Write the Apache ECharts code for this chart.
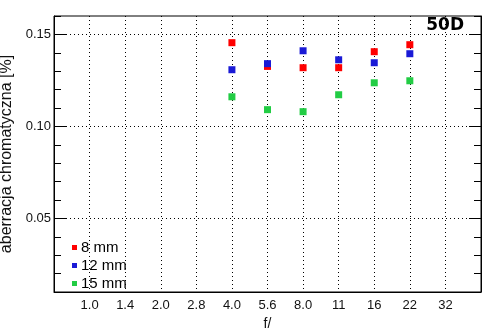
<!DOCTYPE html>
<html><head><meta charset="utf-8">
<script src="https://cdn.jsdelivr.net/npm/echarts@6/dist/echarts.min.js"></script>
<style>html,body{margin:0;padding:0;background:#fff}#c{width:494px;height:331px}</style>
</head><body><div id="c"></div>
<script>
var xCategories = ['', '1.0', '1.4', '2.0', '2.8', '4.0', '5.6', '8.0', '11', '16', '22', '32', ''];
var fStops = ['4.0', '5.6', '8.0', '11', '16', '22'];
var s8mm = [0.1455, 0.1326, 0.1319, 0.1319, 0.1406, 0.1444];
var s12mm = [0.1308, 0.1341, 0.1411, 0.1362, 0.1346, 0.1395];
var s15mm = [0.1161, 0.1091, 0.1080, 0.1172, 0.1237, 0.1248];
var yCategories = ['0.01','0.02','0.03','0.04','0.05','0.06','0.07','0.08','0.09','0.10','0.11','0.12','0.13','0.14','0.15','0.16'];
var majorLabels = ['0.05', '0.10', '0.15'];
var seriesNames = ['8 mm', '12 mm', '15 mm'];
var seriesColors = ['#ff0000', '#1a1ad6', '#22cc44'];
var seriesValues = [s8mm, s12mm, s15mm];

var FONT = 'Liberation Sans';
function isMajor(i) { return majorLabels.indexOf(yCategories[i]) >= 0; }

function valueAxis(pos) {
  return {
    type: 'value', position: pos, min: 0.01, max: 0.16, interval: 0.01,
    axisLine: { show: true, lineStyle: { color: '#000' } },
    axisTick: { show: true, inside: true, length: 7, lineStyle: { color: '#000' } },
    axisLabel: { show: false }, splitLine: { show: false }
  };
}
function catAxis(pos, withLabels) {
  return {
    type: 'category', position: pos, data: yCategories, boundaryGap: false,
    name: withLabels ? 'aberracja chromatyczna [%]' : '',
    nameLocation: 'middle', nameGap: 37,
    nameTextStyle: { fontFamily: FONT, fontSize: 16, color: '#111' },
    axisLine: { show: false },
    axisTick: { show: true, inside: true, length: 12, alignWithLabel: true,
      interval: function (i) { return isMajor(i); }, lineStyle: { color: '#000' } },
    axisLabel: { show: withLabels, interval: function (i) { return isMajor(i); },
      fontFamily: FONT, fontSize: 13, color: '#111', margin: 3 },
    splitLine: { show: withLabels, interval: function (i) { return isMajor(i); },
      lineStyle: { color: '#000', type: [1, 3], width: 1 } }
  };
}

var series = seriesNames.map(function (n, k) {
  return {
    name: n, type: 'scatter', yAxisIndex: 0, symbol: 'rect', symbolSize: 7,
    itemStyle: { color: seriesColors[k], opacity: 1 },
    data: fStops.map(function (f, i) { return [f, seriesValues[k][i]]; }),
    z: 5
  };
});

var chart = echarts.init(document.getElementById('c'), null, { renderer: 'canvas' });
chart.setOption({
  animation: false,
  backgroundColor: '#fff',
  title: { text: '50D', right: 30, top: 17, padding: 0,
    textStyle: { fontFamily: 'DejaVu Sans', fontWeight: 'bold', fontSize: 17, color: '#000' } },
  grid: { left: 54, right: 13, top: 16, bottom: 39, outerBoundsMode: 'none', containLabel: false,
    show: true, borderColor: '#000', borderWidth: 1, backgroundColor: 'transparent' },
  legend: {
    data: seriesNames, orient: 'vertical', left: 72, top: 240, padding: 0, itemWidth: 5, itemHeight: 5,
    itemGap: 3, icon: 'rect',
    textStyle: { fontFamily: FONT, fontSize: 15, lineHeight: 14, color: '#000', padding: [0, 0, 0, -1] }
  },
  xAxis: {
    type: 'category', data: xCategories, boundaryGap: false,
    name: 'f/', nameLocation: 'middle', nameGap: 23,
    nameTextStyle: { fontFamily: FONT, fontSize: 14, color: '#111' },
    axisLine: { show: true, onZero: false, lineStyle: { color: '#000' } },
    axisTick: { show: false },
    axisLabel: { interval: 0, fontFamily: FONT, fontSize: 13, color: '#111', margin: 7 },
    splitLine: { show: true, interval: 0, lineStyle: { color: '#000', type: [1, 3], width: 1 } }
  },
  yAxis: [valueAxis('left'), catAxis('left', true), valueAxis('right'), catAxis('right', false)],
  series: series
});
</script></body></html>
